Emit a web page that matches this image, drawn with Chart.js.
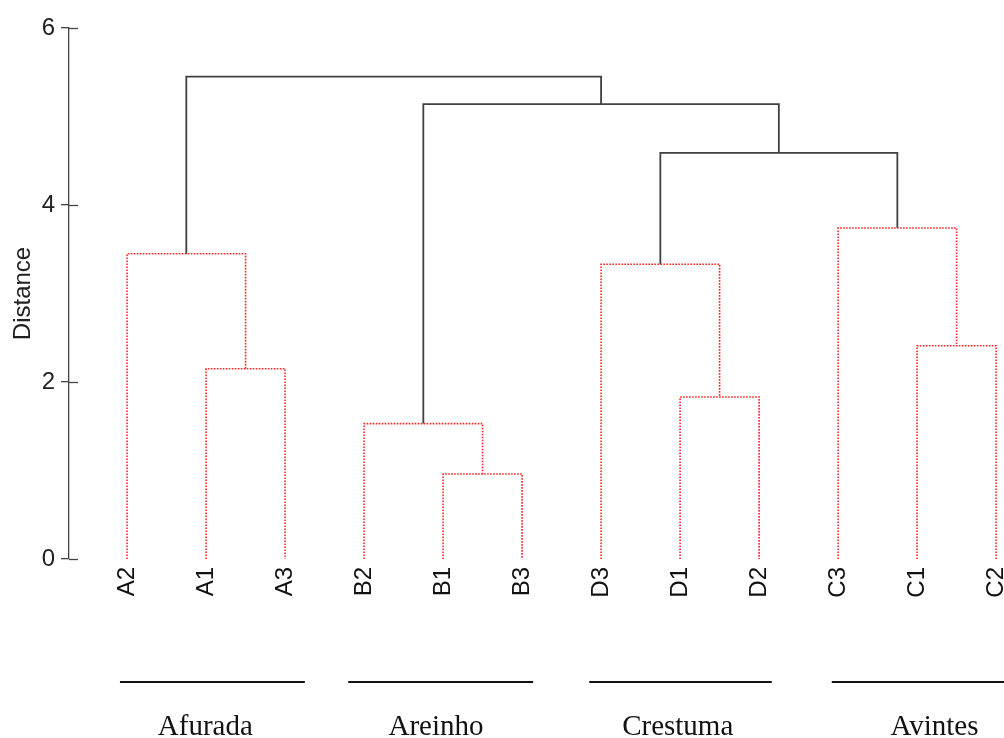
<!DOCTYPE html>
<html>
<head>
<meta charset="utf-8">
<script src="https://cdn.jsdelivr.net/npm/chart.js@4.4.1/dist/chart.umd.min.js"></script>
<style>
  html, body { margin: 0; padding: 0; background: #fff; }
  canvas { display: block; }
</style>
</head>
<body>
<canvas id="c" width="1004" height="738"></canvas>
<script>
// Sample order along the horizontal axis
const leaves = ['A2', 'A1', 'A3', 'B2', 'B1', 'B3', 'D3', 'D1', 'D2', 'C3', 'C1', 'C2'];
// Agglomeration steps: negative = sample number (1-based), positive = earlier step (1-based)
const mergeLeft   = [-2, -1, -5, -4, -8, -7, -11, -10, 6, 4, 2];
const mergeRight  = [-3,  1, -6,  3, -9,  5, -12,   7, 8, 9, 10];
const mergeHeight = [2.15, 3.45, 0.96, 1.53, 1.83, 3.33, 2.41, 3.74, 4.59, 5.14, 5.45];
// Steps inside one sampling site are drawn dotted red
const withinSite  = [true, true, true, true, true, true, true, true, false, false, false];
const distanceTicks = [0, 2, 4, 6];
// Sampling sites shown under the sample names
const sites = ['Afurada', 'Areinho', 'Crestuma', 'Avintes'];
const siteFrom = [-0.09, 2.80, 5.85, 8.92];
const siteTo   = [2.25, 5.14, 8.16, 11.2];
const siteLabelAt = [0.99, 3.91, 6.97, 10.22];

// Position and height of every node of the tree
const nodeX = [], nodeH = [];
function posOf(ref) { return ref < 0 ? ref * -1 - 1 : nodeX[ref - 1]; }
function heightOf(ref) { return ref < 0 ? 0 : nodeH[ref - 1]; }

const datasets = [];
mergeHeight.forEach((h, k) => {
  const xl = posOf(mergeLeft[k]), xr = posOf(mergeRight[k]);
  const hl = heightOf(mergeLeft[k]), hr = heightOf(mergeRight[k]);
  nodeX.push((xl + xr) / 2);
  nodeH.push(h);
  const red = withinSite[k];
  datasets.push({
    data: [{ x: xl, y: hl }, { x: xl, y: h }, { x: xr, y: h }, { x: xr, y: hr }],
    showLine: true,
    borderColor: red ? 'rgba(255,25,25,0.95)' : '#404040',
    borderWidth: red ? 1.6 : 1.8,
    borderDash: red ? [1.6, 1.4] : [],
    pointRadius: 0,
    tension: 0,
    fill: false
  });
});

const AXIS = '#444444';

// Tick marks that cross the axis, and the site brackets below the names
const extras = {
  id: 'extras',
  afterDraw(chart) {
    const ctx = chart.ctx;
    const ys = chart.scales.y, xs = chart.scales.x;
    ctx.save();
    ctx.strokeStyle = AXIS;
    ctx.lineWidth = 1.3;
    distanceTicks.forEach(v => {
      const py = Math.round(ys.getPixelForValue(v)) + 0.5;
      ctx.beginPath();
      ctx.moveTo(chart.chartArea.left, py);
      ctx.lineTo(chart.chartArea.left + 9, py);
      ctx.stroke();
    });
    ctx.strokeStyle = '#111';
    ctx.lineWidth = 2;
    ctx.fillStyle = '#111';
    ctx.font = '29px "Liberation Serif", "Times New Roman", serif';
    ctx.textAlign = 'center';
    ctx.textBaseline = 'alphabetic';
    sites.forEach((name, i) => {
      ctx.beginPath();
      ctx.moveTo(xs.getPixelForValue(siteFrom[i]), 682);
      ctx.lineTo(xs.getPixelForValue(siteTo[i]), 682);
      ctx.stroke();
      ctx.fillText(name, xs.getPixelForValue(siteLabelAt[i]), 735);
    });
    ctx.restore();
  }
};

new Chart(document.getElementById('c'), {
  type: 'scatter',
  data: { datasets },
  options: {
    responsive: false,
    animation: false,
    devicePixelRatio: 1,
    layout: { padding: { top: 28, left: 0, right: 0, bottom: 0 } },
    plugins: { legend: { display: false }, tooltip: { enabled: false } },
    scales: {
      x: {
        type: 'linear',
        min: -0.735,
        max: 11.1,
        grid: { display: false, drawTicks: false },
        border: { display: false },
        afterBuildTicks: s => { s.ticks = leaves.map((_, i) => ({ value: i })); },
        afterFit: s => { s.height = 179; s.paddingLeft = 0; s.paddingRight = 0; },
        ticks: {
          autoSkip: false,
          minRotation: 90,
          maxRotation: 90,
          padding: 8,
          color: '#111',
          font: { family: '"Liberation Sans", Arial, sans-serif', size: 24 },
          callback: v => leaves[v]
        }
      },
      y: {
        type: 'linear',
        min: 0,
        max: 6,
        afterBuildTicks: s => { s.ticks = distanceTicks.map(v => ({ value: v })); },
        afterFit: s => { s.width = 69; s.paddingTop = 0; s.paddingBottom = 0; },
        grid: { drawOnChartArea: false, drawTicks: true, tickLength: 8, color: AXIS, lineWidth: 1.3 },
        border: { display: true, color: AXIS, width: 1.3 },
        ticks: {
          padding: 6,
          color: '#222',
          font: { family: '"Liberation Sans", Arial, sans-serif', size: 24 }
        },
        title: {
          display: true,
          text: 'Distance',
          color: '#222',
          padding: { top: 9, bottom: 0 },
          font: { family: '"Liberation Sans", Arial, sans-serif', size: 24 }
        }
      }
    }
  },
  plugins: [extras]
});
</script>
</body>
</html>
